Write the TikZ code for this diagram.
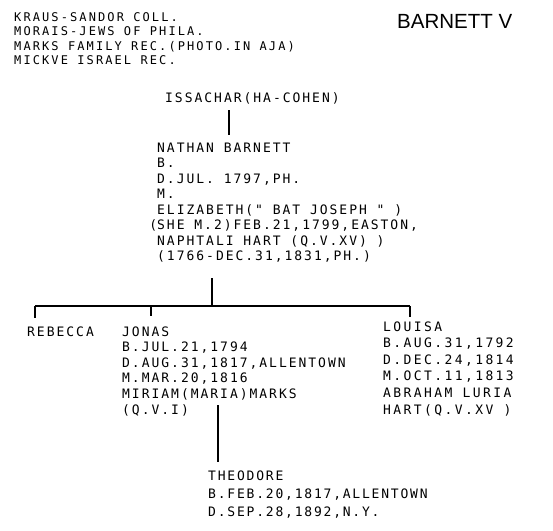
\documentclass[tikz,border=0pt]{standalone}
\usepackage{fontspec}
\newfontfamily\tw[LetterSpace=15.2]{DejaVu Sans Mono}
\newfontfamily\twl[LetterSpace=18.5]{DejaVu Sans Mono}
\newfontfamily\twt[LetterSpace=13.8]{DejaVu Sans Mono}
\newfontfamily\twh[LetterSpace=17.5]{DejaVu Sans Mono}
\newfontfamily\ttl{Liberation Sans}
\newcommand\blk[2]{\vtop{\baselineskip=#1pt\lineskiplimit=-100pt\lineskip=0pt\halign{##\hfil\cr#2\crcr}}}
\begin{document}
\begin{tikzpicture}[x=1pt,y=-1pt,
  txt/.style={anchor=base west, inner sep=0pt, font=\tw\fontsize{13}{15}\selectfont},
  hdr/.style={anchor=base west, inner sep=0pt, font=\twh\fontsize{12}{15}\selectfont},
  link/.style={line width=1.1pt, line cap=butt},
  bar/.style={line width=1.4pt}]
\useasboundingbox[fill=white] (0,0) rectangle (553,530);

% header
\node[hdr] (src) at (14,21.5) {\blk{14.4}{KRAUS-SANDOR COLL.\cr MORAIS-JEWS OF PHILA.\cr MARKS FAMILY REC.(PHOTO.IN AJA)\cr MICKVE ISRAEL REC.}};
\node[anchor=base west, inner sep=0pt, font=\ttl\fontsize{20.5}{24}\selectfont] (ttl) at (397,28) {BARNETT V};

% persons
\node[txt] (iss) at (165,102.5) {ISSACHAR(HA-COHEN)};
\node[txt] (nat) at (157,152) {\blk{15.5}{NATHAN BARNETT\cr B.\cr D.JUL. 1797,PH.\cr M.\cr ELIZABETH(" BAT JOSEPH " )\cr \llap{(}SHE M.2)FEB.21,1799,EASTON,\cr NAPHTALI HART (Q.V.XV) )\cr (1766-DEC.31,1831,PH.)}};
\node[txt] (reb) at (27,336) {REBECCA};
\node[txt] (jon) at (122,336) {\blk{15.6}{JONAS\cr B.JUL.21,1794\cr D.AUG.31,1817,ALLENTOWN\cr M.MAR.20,1816\cr MIRIAM(MARIA)MARKS\cr (Q.V.I)}};
\node[txt, font=\twl\fontsize{13}{15}\selectfont] (lou) at (383,331) {\blk{16.6}{LOUISA\cr B.AUG.31,1792\cr D.DEC.24,1814\cr M.OCT.11,1813\cr ABRAHAM LURIA\cr HART(Q.V.XV )}};
\node[txt, font=\twt\fontsize{13}{15}\selectfont] (the) at (208,480) {\blk{18}{THEODORE\cr B.FEB.20,1817,ALLENTOWN\cr D.SEP.28,1892,N.Y.}};

% connector points
\coordinate (issdown) at (229,110);
\coordinate (natup) at (229,135);
\coordinate (natdown) at (212,278);
\coordinate (junc) at (212,306);
\coordinate (barL) at (35,306);
\coordinate (barJ) at (151,306);
\coordinate (barR) at (410,306);
\coordinate (rebup) at (35,318);
\coordinate (jonup) at (151,316);
\coordinate (louup) at (410,317);
\coordinate (jondown) at (218,405);
\coordinate (theup) at (218,462);

\draw[link] (issdown) -- (natup);
\draw[link] (natdown) -- (junc);
\draw[bar] (barL) -- (barR);
\draw[link] (barL) -- (rebup);
\draw[link] (barJ) -- (jonup);
\draw[link] (barR) -- (louup);
\draw[link] (jondown) -- (theup);
\end{tikzpicture}
\end{document}
